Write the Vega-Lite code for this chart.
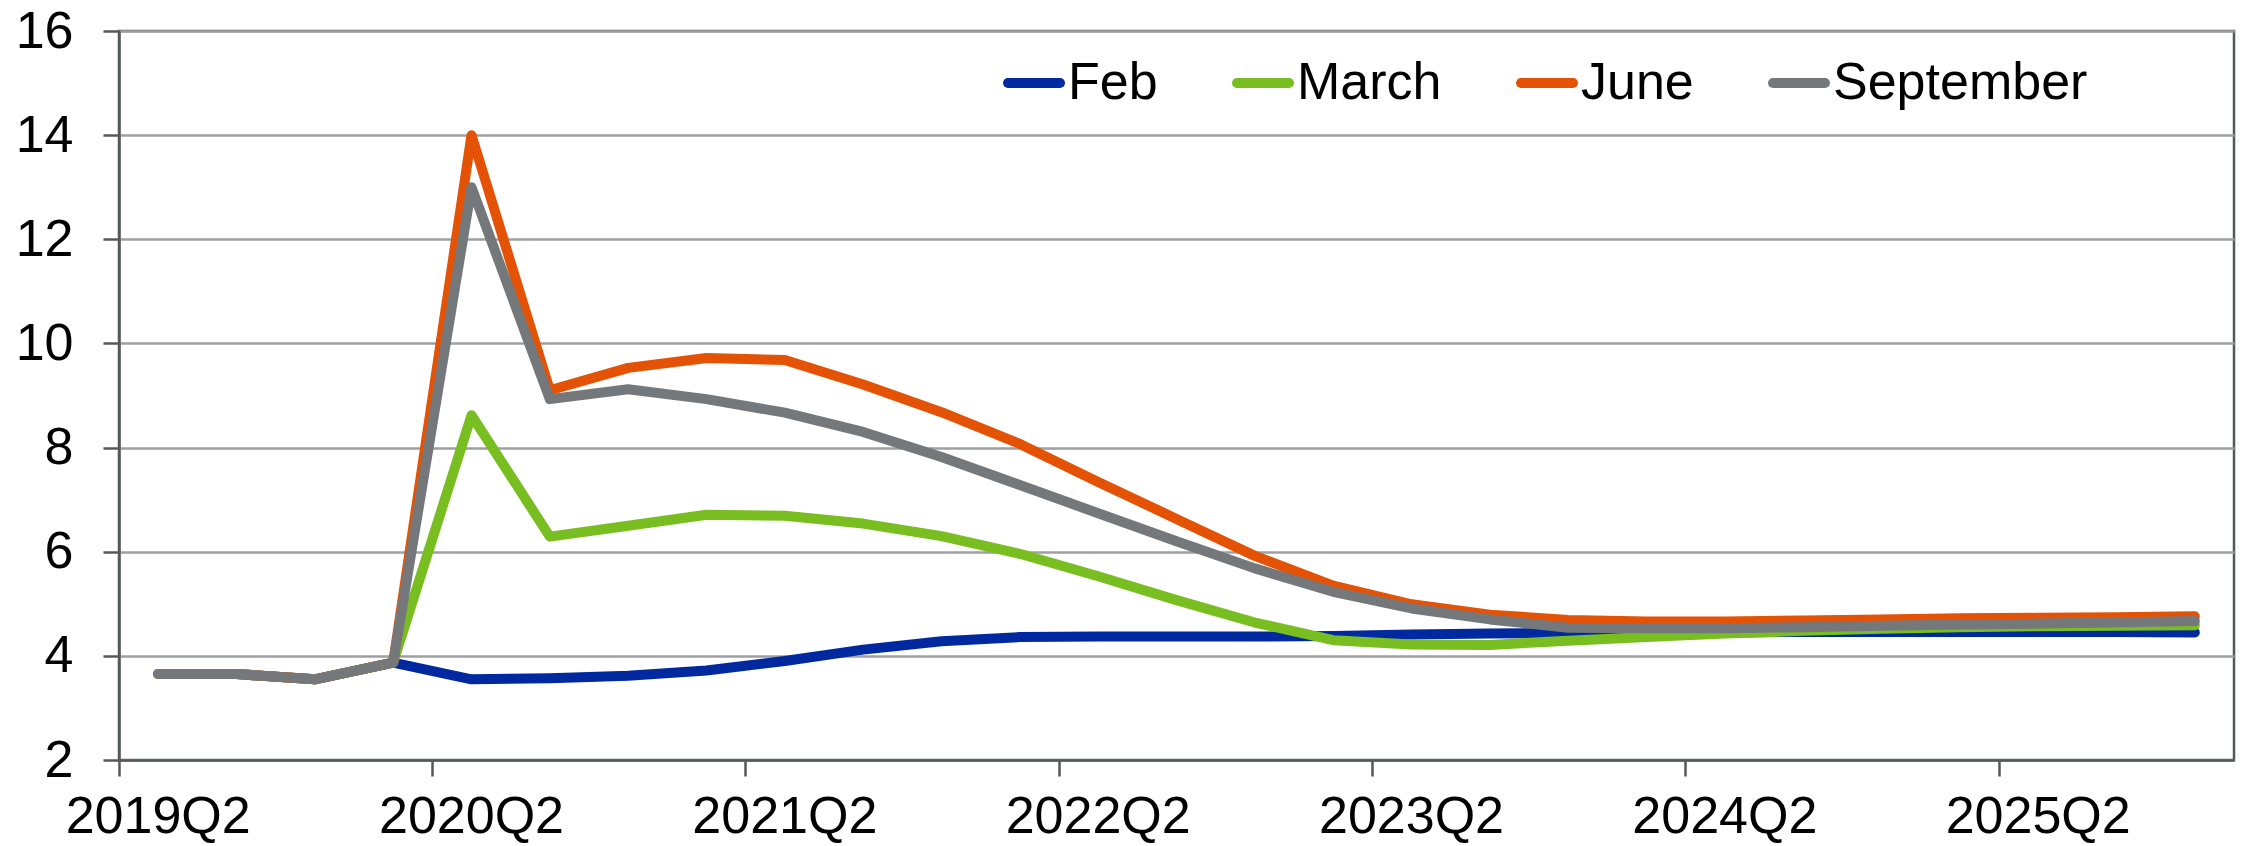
{
  "$schema": "https://vega.github.io/schema/vega-lite/v6.json",
  "width": 2115,
  "height": 729,
  "autosize": {"type": "none"},
  "padding": {"left": 119, "top": 31, "right": 8, "bottom": 86},
  "background": "white",
  "config": {
    "font": "Liberation Sans",
    "view": {"stroke": "#54585A", "strokeWidth": 2.5},
    "axis": {
      "labelFont": "Liberation Sans",
      "labelFontSize": 52,
      "labelColor": "#000000",
      "labelLimit": 400,
      "domainColor": "#54585A",
      "domainWidth": 2.5,
      "tickColor": "#54585A",
      "tickWidth": 2.5,
      "tickSize": 16,
      "title": null
    },
    "legend": {
      "labelFont": "Liberation Sans",
      "labelFontSize": 52,
      "labelColor": "#000000",
      "labelLimit": 500,
      "padding": 0
    }
  },
  "data": {
    "values": [
      {"q": "2019Q2", "Feb": 3.65, "March": 3.65, "June": 3.65, "September": 3.65},
      {"q": "2019Q3", "Feb": 3.65, "March": 3.65, "June": 3.65, "September": 3.65},
      {"q": "2019Q4", "Feb": 3.55, "March": 3.55, "June": 3.55, "September": 3.55},
      {"q": "2020Q1", "Feb": 3.87, "March": 3.87, "June": 3.87, "September": 3.87},
      {"q": "2020Q2", "Feb": 3.55, "March": 8.62, "June": 14.0, "September": 13.0},
      {"q": "2020Q3", "Feb": 3.57, "March": 6.29, "June": 9.1, "September": 8.93},
      {"q": "2020Q4", "Feb": 3.62, "March": 6.5, "June": 9.53, "September": 9.12},
      {"q": "2021Q1", "Feb": 3.72, "March": 6.71, "June": 9.72, "September": 8.93},
      {"q": "2021Q2", "Feb": 3.9, "March": 6.69, "June": 9.68, "September": 8.67},
      {"q": "2021Q3", "Feb": 4.12, "March": 6.54, "June": 9.21, "September": 8.3},
      {"q": "2021Q4", "Feb": 4.28, "March": 6.3, "June": 8.68, "September": 7.82},
      {"q": "2022Q1", "Feb": 4.36, "March": 5.96, "June": 8.07, "September": 7.28},
      {"q": "2022Q2", "Feb": 4.37, "March": 5.53, "June": 7.34, "September": 6.74},
      {"q": "2022Q3", "Feb": 4.37, "March": 5.07, "June": 6.63, "September": 6.2},
      {"q": "2022Q4", "Feb": 4.37, "March": 4.64, "June": 5.92, "September": 5.68},
      {"q": "2023Q1", "Feb": 4.38, "March": 4.3, "June": 5.35, "September": 5.23},
      {"q": "2023Q2", "Feb": 4.41, "March": 4.22, "June": 4.99, "September": 4.91},
      {"q": "2023Q3", "Feb": 4.43, "March": 4.21, "June": 4.79, "September": 4.7},
      {"q": "2023Q4", "Feb": 4.44, "March": 4.29, "June": 4.69, "September": 4.54},
      {"q": "2024Q1", "Feb": 4.45, "March": 4.36, "June": 4.66, "September": 4.53},
      {"q": "2024Q2", "Feb": 4.45, "March": 4.43, "June": 4.66, "September": 4.53},
      {"q": "2024Q3", "Feb": 4.46, "March": 4.48, "June": 4.68, "September": 4.55},
      {"q": "2024Q4", "Feb": 4.46, "March": 4.52, "June": 4.7, "September": 4.58},
      {"q": "2025Q1", "Feb": 4.46, "March": 4.55, "June": 4.72, "September": 4.6},
      {"q": "2025Q2", "Feb": 4.46, "March": 4.57, "June": 4.73, "September": 4.62},
      {"q": "2025Q3", "Feb": 4.46, "March": 4.58, "June": 4.74, "September": 4.64},
      {"q": "2025Q4", "Feb": 4.45, "March": 4.59, "June": 4.76, "September": 4.67}
    ]
  },
  "transform": [
    {"fold": ["Feb", "March", "June", "September"], "as": ["series", "value"]}
  ],
  "mark": {"type": "line", "strokeWidth": 10, "strokeCap": "round", "strokeJoin": "round"},
  "encoding": {
    "x": {
      "field": "q",
      "type": "ordinal",
      "sort": null,
      "bandPosition": 0.5,
      "scale": {"type": "band", "paddingInner": 0, "paddingOuter": 0},
      "axis": {
        "values": ["2019Q2", "2020Q2", "2021Q2", "2022Q2", "2023Q2", "2024Q2", "2025Q2"],
        "bandPosition": 0,
        "tickExtra": false,
        "labelAngle": 0,
        "labelPadding": 15,
        "grid": false
      }
    },
    "y": {
      "field": "value",
      "type": "quantitative",
      "scale": {"domain": [2, 16], "nice": false, "zero": false},
      "axis": {
        "values": [2, 4, 6, 8, 10, 12, 14, 16],
        "grid": true,
        "gridColor": "#9D9FA2",
        "gridWidth": 2.5,
        "labelPadding": 30
      }
    },
    "color": {
      "field": "series",
      "type": "nominal",
      "sort": null,
      "scale": {
        "domain": ["Feb", "March", "June", "September"],
        "range": ["#0029A0", "#78BE20", "#E35205", "#75787B"]
      },
      "legend": {
        "title": null,
        "orient": "none",
        "direction": "horizontal",
        "legendX": 884,
        "legendY": 21,
        "symbolType": "stroke",
        "symbolSize": 2704,
        "symbolStrokeWidth": 10,
        "labelOffset": 3,
        "columnPadding": 59,
        "encode": {
          "symbols": {"update": {"strokeCap": {"value": "round"}}}
        }
      }
    }
  }
}
